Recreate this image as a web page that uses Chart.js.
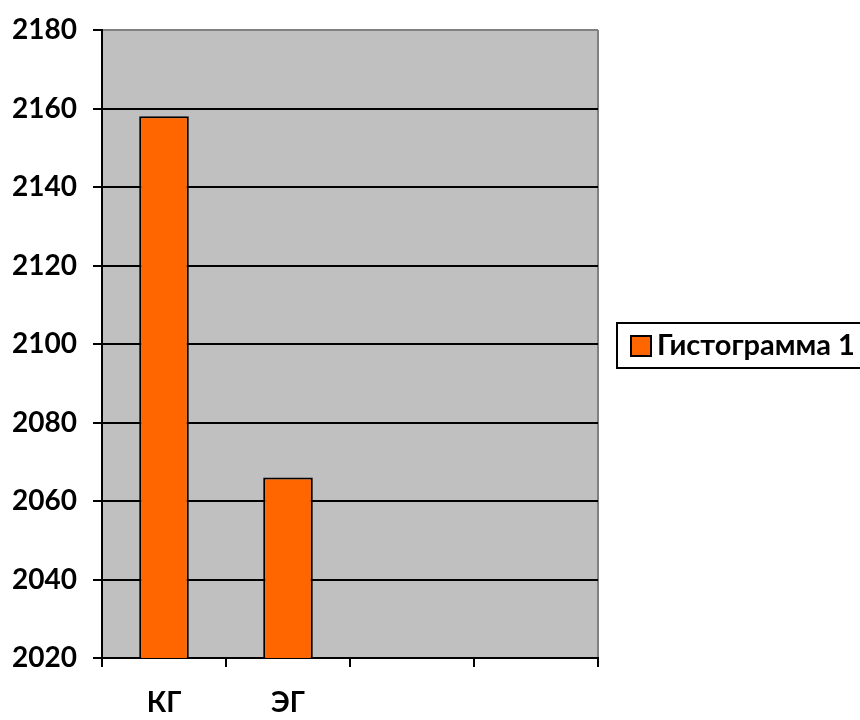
<!DOCTYPE html>
<html><head><meta charset="utf-8">
<script src="https://cdn.jsdelivr.net/npm/chart.js@4"></script>
<style>html,body{margin:0;padding:0;background:#fff;}#wrap{width:860px;height:720px;position:relative;}</style>
</head><body><div id="wrap"><canvas id="c" width="860" height="720"></canvas></div>
<script>
const categories = ['КГ', 'ЭГ', '', ''];
const seriesName = 'Гистограмма 1';
const seriesValues = [2158, 2066, null, null];
const yTicks = [2020, 2040, 2060, 2080, 2100, 2120, 2140, 2160, 2180];

const FONT = 'Lato, "Open Sans", sans-serif';

const bgPlugin = {
  id: 'bg',
  beforeDraw(chart) {
    const a = chart.chartArea, ctx = chart.ctx;
    ctx.save();
    ctx.fillStyle = '#C0C0C0';
    ctx.fillRect(a.left, a.top, a.right - a.left, a.bottom - a.top);
    ctx.strokeStyle = '#808080';
    ctx.lineWidth = 2;
    ctx.beginPath();
    ctx.moveTo(a.right, a.top);
    ctx.lineTo(a.right, a.bottom);
    ctx.stroke();
    ctx.restore();
  },
  afterDraw(chart) {
    const ctx = chart.ctx;
    const ds = chart.data.datasets[0];
    ctx.save();
    const bx = 617, by = 323, bw = 260, bh = 45;
    ctx.strokeStyle = '#000';
    ctx.lineWidth = 2;
    ctx.strokeRect(bx, by, bw, bh);
    ctx.fillStyle = ds.backgroundColor;
    ctx.fillRect(631, 336, 20, 20);
    ctx.strokeRect(631, 336, 20, 20);
    ctx.fillStyle = '#000';
    ctx.font = 'bold 29px ' + FONT;
    ctx.textBaseline = 'middle';
    ctx.textAlign = 'left';
    ctx.fillText(ds.label, 657, 346);
    ctx.restore();
  }
};

new Chart(document.getElementById('c'), {
  type: 'bar',
  data: {
    labels: categories,
    datasets: [{
      label: seriesName,
      data: seriesValues,
      backgroundColor: '#FF6600',
      borderColor: '#000000',
      borderWidth: 2,
      borderSkipped: 'bottom',
      categoryPercentage: 1,
      barPercentage: 0.4
    }]
  },
  options: {
    responsive: false,
    animation: false,
    devicePixelRatio: 1,
    layout: { padding: { top: 30, right: 262, left: 0, bottom: 0 } },
    plugins: { legend: { display: false }, tooltip: { enabled: false } },
    scales: {
      x: {
        grid: { offset: true, drawOnChartArea: false, color: '#000', lineWidth: 2, tickLength: 9 },
        border: { color: '#000', width: 2 },
        ticks: { color: '#000', font: { family: FONT, size: 28, weight: 'bold' }, padding: 19, maxRotation: 0 },
        afterFit(s) { s.height = 62; s.paddingLeft = 0; s.paddingRight = 0; }
      },
      y: {
        min: 2020, max: 2180,
        afterBuildTicks(s) { s.ticks = yTicks.map(v => ({ value: v })); },
        grid: {
          color: ctx => (ctx.tick && ctx.tick.value === 2180) ? '#808080' : '#000',
          lineWidth: 2,
          tickLength: 9,
          tickColor: '#000'
        },
        border: { color: '#000', width: 2 },
        ticks: { color: '#000', font: { family: FONT, size: 28, weight: 'bold' }, padding: 16,
                 callback: v => String(v) },
        afterFit(s) { s.width = 102; s.paddingTop = 0; s.paddingBottom = 0; }
      }
    }
  },
  plugins: [bgPlugin]
});
</script></body></html>
